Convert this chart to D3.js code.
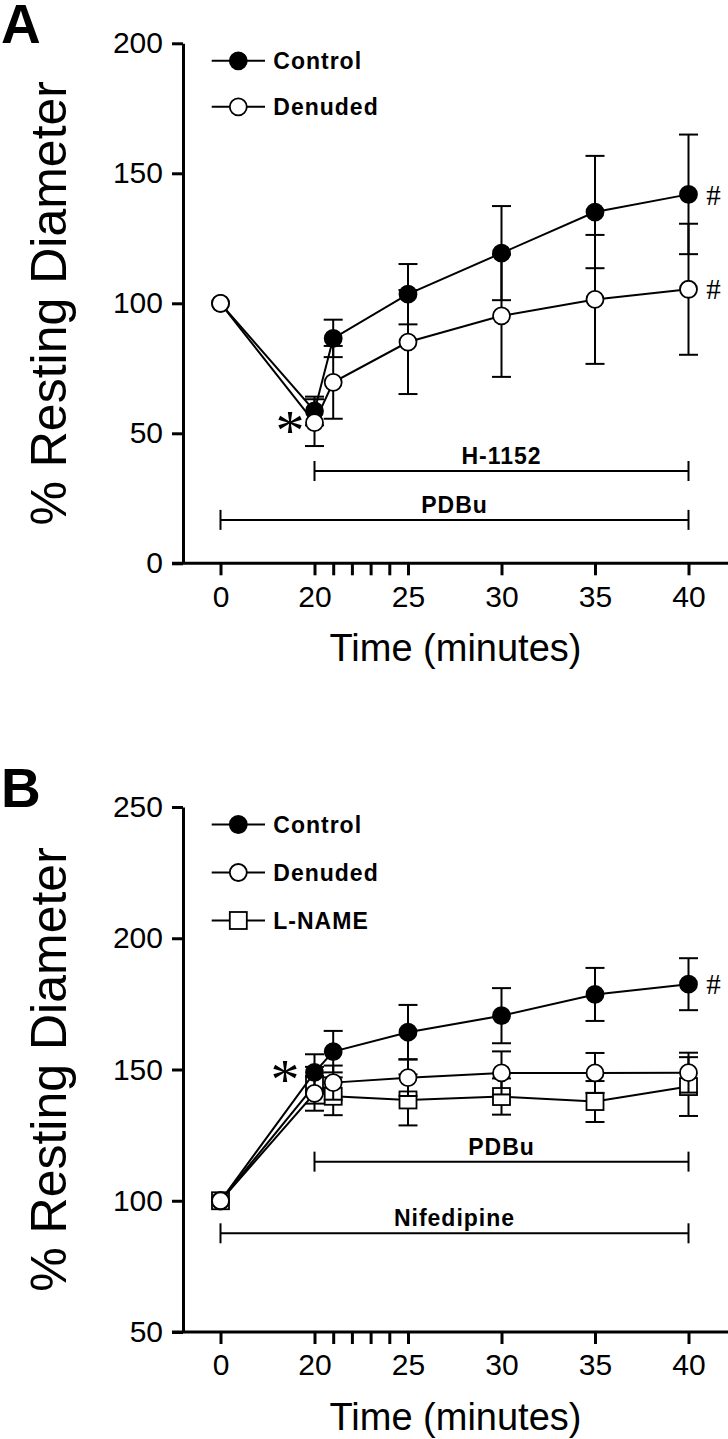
<!DOCTYPE html>
<html>
<head>
<meta charset="utf-8">
<script src="https://cdn.jsdelivr.net/npm/d3@7"></script>
<style>
  body { margin: 0; background: #fff; }
  svg text { font-family: "Liberation Sans", Arial, sans-serif; fill: #000; }
</style>
</head>
<body>
<svg id="fig" width="728" height="1439"></svg>
<script>
// time points (minutes), shared by both panels
const times = [0, 20, 21, 25, 30, 35, 40];
const xMajorTicks = [0, 20, 25, 30, 35, 40];
const xMinorTicks = [21, 22, 23, 24];

// Panel A
const aYTicks = [0, 50, 100, 150, 200];
const aControl = [100, 58.6, 86.5, 103.5, 119.3, 135.1, 141.9];
const aControlSem = [0, 5.5, 7.2, 11.6, 18.1, 21.6, 23.0];
const aDenuded = [100, 54.1, 69.6, 85.1, 95.2, 101.5, 105.4];
const aDenudedSem = [0, 9.0, 14.0, 20.0, 23.5, 24.8, 25.2];
const aTreatments = [
  { label: "H-1152", start: 20, end: 40, level: 35.5 },
  { label: "PDBu", start: 0, end: 40, level: 16.7 }
];
const aHash = ["Control", "Denuded"];

// Panel B
const bYTicks = [50, 100, 150, 200, 250];
const bControl = [100, 148.9, 156.8, 164.2, 170.5, 178.6, 182.5];
const bControlSem = [0, 6.9, 7.9, 10.4, 10.5, 10.1, 9.9];
const bDenuded = [100, 140.9, 145.0, 146.9, 148.7, 148.7, 148.8];
const bDenudedSem = [0, 6.6, 6.5, 7.0, 8.2, 7.6, 7.6];
const bLname = [100, 144.0, 139.8, 138.4, 139.7, 137.8, 143.5];
const bLnameSem = [0, 7.0, 7.2, 9.7, 6.9, 7.8, 11.2];
const bTreatments = [
  { label: "PDBu", start: 20, end: 40, level: 114.9 },
  { label: "Nifedipine", start: 0, end: 40, level: 87.6 }
];
const bHash = ["Control"];

const svg = d3.select("#fig");

const x = d3.scaleLinear().domain([0, 20, 40]).range([220.5, 314.5, 688.5]);

function series(name, shape, fill, vals, sems) {
  return { name, shape, fill, pts: times.map((t, i) => ({ t, v: vals[i], e: sems[i] })) };
}

function drawPanel(p) {
  const g = svg.append("g");
  const y = d3.scaleLinear().domain(p.yDomain).range([p.bottom, p.top]);
  const axisLeft = 183;

  // panel letter
  g.append("text").attr("x", 1).attr("y", p.top).attr("font-size", 55)
    .attr("font-weight", "bold").text(p.letter);

  // y axis
  const ya = g.append("g").attr("transform", "translate(" + axisLeft + ",0)")
    .call(d3.axisLeft(y).tickValues(p.yTicks).tickSize(11).tickSizeOuter(0).tickPadding(9));
  ya.selectAll("text").attr("font-size", 30).attr("font-family", null);
  ya.selectAll("line").attr("stroke-width", 3);
  ya.select(".domain").attr("stroke-width", 3);

  // x axis (line drawn separately so it can run past the y axis)
  const xa = g.append("g").attr("transform", "translate(0," + p.bottom + ")")
    .call(d3.axisBottom(x).tickValues(xMajorTicks.concat(xMinorTicks))
      .tickFormat(d => xMajorTicks.includes(d) ? d : "")
      .tickSize(12).tickPadding(10));
  xa.select(".domain").remove();
  xa.selectAll("text").attr("font-size", 30).attr("font-family", null);
  xa.selectAll("line").attr("stroke-width", 3);
  g.append("line").attr("x1", 172).attr("x2", 728)
    .attr("y1", p.bottom).attr("y2", p.bottom)
    .attr("stroke", "#000").attr("stroke-width", 3);

  // axis titles
  g.append("text").attr("x", (axisLeft + 728) / 2).attr("y", p.bottom + 98)
    .attr("text-anchor", "middle").attr("font-size", 38).text("Time (minutes)");
  g.append("text")
    .attr("transform", "translate(66," + (p.top + p.bottom) / 2 + ") rotate(-90)")
    .attr("text-anchor", "middle").attr("font-size", 50).text("% Resting Diameter");

  // treatment bars
  p.treatments.forEach(tr => {
    const ty = y(tr.level);
    g.append("line").attr("x1", x(tr.start)).attr("x2", x(tr.end))
      .attr("y1", ty).attr("y2", ty).attr("stroke", "#000").attr("stroke-width", 2);
    [tr.start, tr.end].forEach(t => {
      g.append("line").attr("x1", x(t)).attr("x2", x(t))
        .attr("y1", ty - 10).attr("y2", ty + 10).attr("stroke", "#000").attr("stroke-width", 2);
    });
    g.append("text").attr("x", (x(tr.start) + x(tr.end)) / 2).attr("y", ty - 7)
      .attr("text-anchor", "middle").attr("font-size", 23).attr("font-weight", "bold")
      .attr("letter-spacing", 1).text(tr.label);
  });

  const line = d3.line().x(d => x(d.t)).y(d => y(d.v));

  function marker(sel, s, cx, cy) {
    if (s.shape === "square") {
      sel.append("rect").attr("x", cx - 8.5).attr("y", cy - 8.5).attr("width", 17).attr("height", 17)
        .attr("fill", s.fill).attr("stroke", "#000").attr("stroke-width", 1.8);
    } else {
      sel.append("circle").attr("cx", cx).attr("cy", cy).attr("r", 8.5)
        .attr("fill", s.fill).attr("stroke", "#000").attr("stroke-width", 1.8);
    }
  }

  p.series.forEach(s => {
    const sg = g.append("g");
    s.pts.filter(d => d.e > 0).forEach(d => {
      const cx = x(d.t);
      sg.append("line").attr("x1", cx).attr("x2", cx)
        .attr("y1", y(d.v - d.e)).attr("y2", y(d.v + d.e))
        .attr("stroke", "#000").attr("stroke-width", 2);
      [d.v - d.e, d.v + d.e].forEach(v => {
        sg.append("line").attr("x1", cx - 9.5).attr("x2", cx + 9.5)
          .attr("y1", y(v)).attr("y2", y(v)).attr("stroke", "#000").attr("stroke-width", 2);
      });
    });
    sg.append("path").datum(s.pts).attr("d", line)
      .attr("fill", "none").attr("stroke", "#000").attr("stroke-width", 2);
    s.pts.forEach(d => marker(sg, s, x(d.t), y(d.v)));
  });

  // significance marks
  p.series.filter(s => p.hash.includes(s.name)).forEach(s => {
    const last = s.pts[s.pts.length - 1];
    g.append("text").attr("x", x(last.t) + 25).attr("y", y(last.v))
      .attr("dy", "0.35em").attr("text-anchor", "middle")
      .style("font-family", "'Liberation Serif', 'Times New Roman', serif")
      .attr("font-size", 29).text("#");
  });
  const starS = p.series.find(s => s.name === p.star.series);
  const starPt = starS.pts.find(d => d.t === p.star.time);
  g.append("text").attr("x", x(starPt.t) + p.star.dx).attr("y", y(starPt.v) + 27)
    .attr("text-anchor", "middle")
    .style("font-family", "'Liberation Serif', 'Times New Roman', serif")
    .attr("font-size", 58).text("*");

  // legend
  const order = p.legendOrder.map(n => p.series.find(s => s.name === n));
  order.forEach((s, i) => {
    const ly = p.top + 17.5 + i * p.legendGap;
    g.append("line").attr("x1", 211.7).attr("x2", 265).attr("y1", ly).attr("y2", ly)
      .attr("stroke", "#000").attr("stroke-width", 2);
    marker(g, s, 238.3, ly);
    g.append("text").attr("x", 273.3).attr("y", ly).attr("dy", "0.36em")
      .attr("font-size", 23).attr("font-weight", "bold").attr("letter-spacing", 1)
      .text(s.name);
  });
}

drawPanel({
  letter: "A", top: 43.3, bottom: 563.3, yDomain: [0, 200], yTicks: aYTicks,
  series: [
    series("Control", "circle", "#000", aControl, aControlSem),
    series("Denuded", "circle", "#fff", aDenuded, aDenudedSem)
  ],
  legendOrder: ["Control", "Denuded"], legendGap: 46,
  treatments: aTreatments, hash: aHash,
  star: { series: "Denuded", time: 20, dx: -24.5 }
});

drawPanel({
  letter: "B", top: 807, bottom: 1332, yDomain: [50, 250], yTicks: bYTicks,
  series: [
    series("L-NAME", "square", "#fff", bLname, bLnameSem),
    series("Control", "circle", "#000", bControl, bControlSem),
    series("Denuded", "circle", "#fff", bDenuded, bDenudedSem)
  ],
  legendOrder: ["Control", "Denuded", "L-NAME"], legendGap: 48,
  treatments: bTreatments, hash: bHash,
  star: { series: "Control", time: 20, dx: -29.5 }
});
</script>
</body>
</html>
